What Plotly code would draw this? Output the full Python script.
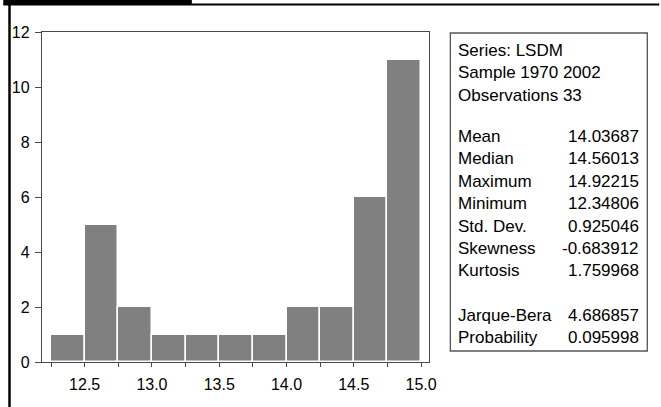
import plotly.graph_objects as go

# ---- data ----
bin_starts = [12.25, 12.50, 12.75, 13.00, 13.25, 13.50, 13.75, 14.00, 14.25, 14.50, 14.75]
counts = [1, 5, 2, 1, 1, 1, 1, 2, 2, 6, 11]
bin_width = 0.25
x_tick_vals = [12.25, 12.5, 12.75, 13.0, 13.25, 13.5, 13.75, 14.0, 14.25, 14.5, 14.75, 15.0]
x_tick_text = ["", "12.5", "", "13.0", "", "13.5", "", "14.0", "", "14.5", "", "15.0"]
y_tick_vals = [0, 2, 4, 6, 8, 10, 12]

header_lines = ["Series: LSDM", "Sample 1970 2002", "Observations 33"]
stat_names = ["Mean", "Median", "Maximum", "Minimum", "Std. Dev.", "Skewness", "Kurtosis",
              "Jarque-Bera", "Probability"]
stat_values = ["14.03687", "14.56013", "14.92215", "12.34806", "0.925046", "-0.683912",
               "1.759968", "4.686857", "0.095998"]

centers = [s + bin_width / 2 for s in bin_starts]

W, H = 661, 407
L, R, T, B = 39, 429, 32, 362  # plot area in pixels


def px(x):
    return (x - L) / (R - L)


def py(y):
    return (B - y) / (B - T)


FONT = "Liberation Sans, Arial, sans-serif"
AX = "#4a4a4a"

fig = go.Figure()
fig.add_trace(go.Bar(
    x=centers, y=counts, width=bin_width,
    marker=dict(color="#808080", line=dict(color="white", width=1.5)),
    hoverinfo="x+y", showlegend=False,
))

fig.update_layout(
    width=W, height=H,
    margin=dict(l=L, r=W - R, t=T, b=H - B, pad=0),
    paper_bgcolor="white", plot_bgcolor="white",
    font=dict(family=FONT, size=16, color="black"),
    bargap=0,
    xaxis=dict(range=[12.183, 15.059], tickvals=x_tick_vals, ticktext=x_tick_text,
               ticks="outside", ticklen=4, tickcolor=AX, tickwidth=1,
               showline=True, linecolor=AX, linewidth=1.3, mirror=True,
               showgrid=False, zeroline=False, ticklabelstandoff=4,
               tickfont=dict(size=16)),
    yaxis=dict(range=[0, 12], tickvals=y_tick_vals,
               ticks="outside", ticklen=6, tickcolor=AX, tickwidth=1,
               showline=True, linecolor=AX, linewidth=1.3, mirror=True,
               showgrid=False, zeroline=False, ticklabelstandoff=2,
               tickfont=dict(size=16)),
)

shapes = []
# outer decoration: thick top-left bar, thin top line, left border
shapes.append(dict(type="rect", xref="paper", yref="paper", x0=px(0), x1=px(190), y0=py(0), y1=py(4.5),
                   fillcolor="black", line=dict(width=0), layer="above"))
shapes.append(dict(type="rect", xref="paper", yref="paper", x0=px(0), x1=px(661), y0=py(3.5), y1=py(5.5),
                   fillcolor="black", line=dict(width=0), layer="above"))
shapes.append(dict(type="rect", xref="paper", yref="paper", x0=px(5), x1=px(7.5), y0=py(0), y1=py(407),
                   fillcolor="black", line=dict(width=0), layer="above"))
# stats box
shapes.append(dict(type="rect", xref="paper", yref="paper", x0=px(450.5), x1=px(649), y0=py(33), y1=py(351),
                   fillcolor="rgba(0,0,0,0)", line=dict(color="#555555", width=1.3), layer="above"))
fig.update_layout(shapes=shapes)

SF = 17
annotations = []
header_y = [50, 72.5, 95]
for txt, yy in zip(header_lines, header_y):
    annotations.append(dict(text=txt, xref="paper", yref="paper", x=px(456), y=py(yy),
                            xanchor="left", yanchor="middle", showarrow=False,
                            font=dict(size=SF, family=FONT)))
stat_y = [136, 158.5, 181, 203.5, 226, 248.5, 270.5, 315, 337]
for name, val, yy in zip(stat_names, stat_values, stat_y):
    annotations.append(dict(text=name, xref="paper", yref="paper", x=px(456), y=py(yy),
                            xanchor="left", yanchor="middle", showarrow=False,
                            font=dict(size=SF, family=FONT)))
    annotations.append(dict(text=val, xref="paper", yref="paper", x=px(643), y=py(yy),
                            xanchor="right", yanchor="middle", showarrow=False,
                            font=dict(size=SF, family=FONT)))
fig.update_layout(annotations=annotations)

fig.write_html("out.html", config={"displayModeBar": False},
               post_script="document.body.style.margin='0px';")
